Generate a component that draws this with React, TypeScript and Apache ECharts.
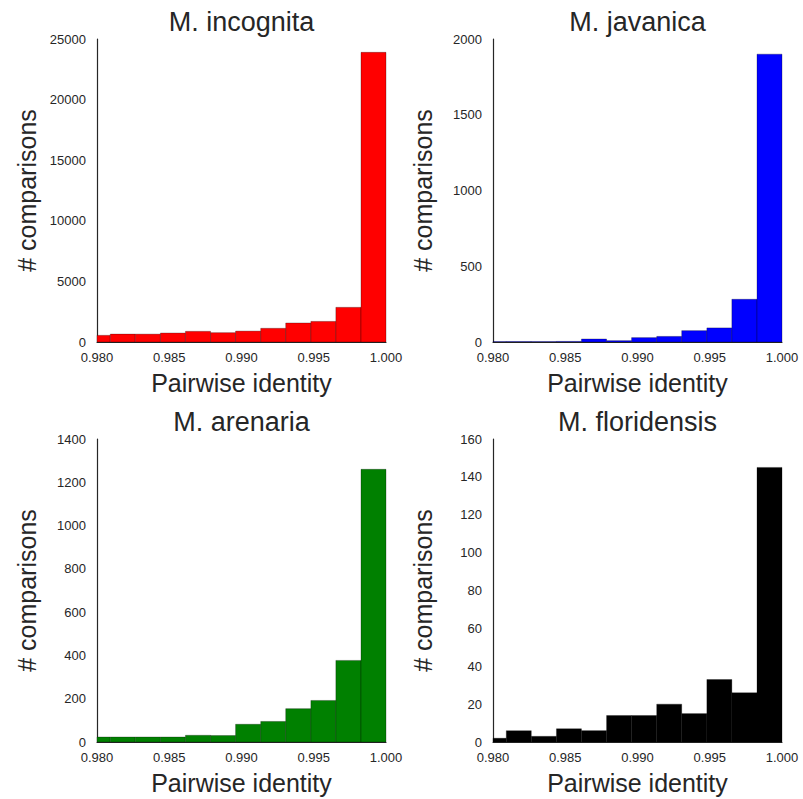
import React, { useEffect, useRef } from "react";
import * as echarts from "echarts";

// Bin edges (first bin is clipped at 0.980)
const binEdges = [0.98, 0.98092, 0.98265, 0.98439, 0.98612, 0.98786, 0.98959, 0.99133, 0.99306, 0.9948, 0.99653, 0.99827, 1.0];

const titles = ["M. incognita", "M. javanica", "M. arenaria", "M. floridensis"];
const colors = ["#ff0000", "#0000ff", "#008000", "#000000"];

const incognita = [550, 650, 650, 740, 880, 770, 900, 1130, 1570, 1700, 2860, 23900];
const javanica = [3, 3, 3, 4, 20, 9, 29, 37, 75, 93, 282, 1900];
const arenaria = [23, 23, 23, 23, 31, 30, 82, 95, 154, 192, 377, 1260];
const floridensis = [2, 6, 3, 7, 6, 14, 14, 20, 15, 33, 26, 145];

const yMax = [25000, 2000, 1400, 160];
const yInterval = [5000, 500, 200, 20];

const xTickMin = 0.98;
const xTickMax = 1.0;
const xTickInterval = 0.005;

const seriesValues = [incognita, javanica, arenaria, floridensis];

const grids = [
  { left: 97, top: 39, width: 289, height: 303 },
  { left: 493, top: 39, width: 289, height: 303 },
  { left: 97, top: 439, width: 289, height: 303 },
  { left: 493, top: 439, width: 289, height: 303 },
];

const FONT = "'Liberation Sans', Arial, sans-serif";
const TEXT = "#262626";

export default function App() {
  const ref = useRef<HTMLDivElement>(null);
  useEffect(() => {
    if (!ref.current) return;
    const chart = echarts.init(ref.current, undefined, { renderer: "svg" });
    const option: any = {
      animation: false,
      backgroundColor: "#ffffff",
      textStyle: { fontFamily: FONT },
      grid: grids.map((g) => ({ ...g, containLabel: false })),
      xAxis: grids.map((_, i) => ({
        type: "value",
        gridIndex: i,
        min: xTickMin,
        max: xTickMax,
        interval: xTickInterval,
        name: "Pairwise identity",
        nameLocation: "middle",
        nameGap: 28,
        nameTextStyle: { fontSize: 25, color: TEXT, fontFamily: FONT },
        axisLine: { show: true, onZero: false, lineStyle: { color: TEXT, width: 1.2 } },
        axisTick: { show: false },
        splitLine: { show: false },
        axisLabel: {
          fontSize: 13,
          color: TEXT,
          fontFamily: FONT,
          margin: 9,
          formatter: (v: number) => v.toFixed(3),
        },
      })),
      yAxis: grids.map((_, i) => ({
        type: "value",
        gridIndex: i,
        min: 0,
        max: yMax[i],
        interval: yInterval[i],
        name: "# comparisons",
        nameLocation: "middle",
        nameGap: 58,
        nameTextStyle: { fontSize: 25, color: TEXT, fontFamily: FONT },
        axisLine: { show: true, lineStyle: { color: TEXT, width: 1.2 } },
        axisTick: { show: false },
        splitLine: { show: false },
        axisLabel: {
          fontSize: 13,
          color: TEXT,
          fontFamily: FONT,
          margin: 11,
          formatter: (v: number) => String(Math.round(v)),
        },
      })),
      series: seriesValues.map((vals, i) => ({
        type: "custom",
        xAxisIndex: i,
        yAxisIndex: i,
        data: vals.map((v, k) => [binEdges[k], binEdges[k + 1], v]),
        renderItem: (params: any, api: any) => {
          const x0 = api.value(0);
          const x1 = api.value(1);
          const y = api.value(2);
          const p0 = api.coord([x0, y]);
          const p1 = api.coord([x1, 0]);
          return {
            type: "rect",
            shape: { x: p0[0], y: p0[1], width: p1[0] - p0[0], height: p1[1] - p0[1] },
            style: { fill: colors[i], stroke: "rgba(0,0,0,0.35)", lineWidth: 0.8 },
          };
        },
      })),
      graphic: grids.map((g, i) => ({
        type: "text",
        x: g.left + g.width / 2,
        y: g.top - 17,
        style: {
          text: titles[i],
          fontSize: 27,
          fontFamily: FONT,
          fill: TEXT,
          textAlign: "center",
          textVerticalAlign: "middle",
        },
      })),
    };
    chart.setOption(option);
    return () => chart.dispose();
  }, []);
  return (
    <div
      ref={ref}
      style={{ position: "fixed", left: 0, top: 0, width: 803, height: 799 }}
    />
  );
}
